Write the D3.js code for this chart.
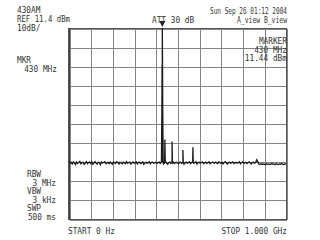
<!DOCTYPE html>
<html>
<head>
<meta charset="utf-8">
<script src="https://cdn.jsdelivr.net/npm/d3@7"></script>
<style>
  body { margin: 0; background: #fff; }
  svg text { font-family: "DejaVu Sans Mono", "Liberation Mono", monospace; font-size: 7.8px; fill: #333; }
  .grid line { stroke: #858585; stroke-width: 1; shape-rendering: crispEdges; }
  .grid path { display: none; }
</style>
</head>
<body>
<script>
// screen settings
var refLevel = 11.4;
var dbPerDiv = 10;
var startFreq = 0;     // MHz
var stopFreq = 1000;   // MHz
var gridTicksX = [0, 100, 200, 300, 400, 500, 600, 700, 800, 900, 1000];
var gridTicksY = [11.4, 1.4, -8.6, -18.6, -28.6, -38.6, -48.6, -58.6, -68.6, -78.6, -88.6];

// noise floor, one reading every 5 MHz (0 .. 1000 MHz)
var noiseStep = 5;
var noise = [
  -58.6,-59.4,-58.9,-59.8,-58.7,-59.2,-60.1,-58.8,-59.5,-59.0,-58.4,-59.7,-59.1,-58.9,-60.0,-59.3,-58.6,-59.6,-59.0,-58.8,
  -59.5,-58.7,-59.9,-59.2,-58.5,-59.4,-59.8,-58.9,-59.1,-60.2,-58.7,-59.3,-59.0,-58.6,-59.7,-59.2,-58.9,-59.6,-58.8,-59.4,
  -59.9,-58.7,-59.2,-59.5,-58.6,-59.0,-59.8,-58.9,-59.3,-59.7,-58.8,-59.1,-59.6,-58.5,-59.4,-59.0,-58.8,-59.9,-59.2,-58.7,
  -59.5,-59.1,-58.6,-59.8,-59.0,-58.9,-59.6,-59.3,-58.7,-60.0,-59.2,-58.8,-59.5,-59.1,-58.6,-59.7,-59.0,-58.9,-59.4,-59.2,
  -58.8,-59.6,-59.1,-58.7,-59.5,-59.0,-58.9,-59.8,-59.3,-58.6,-59.4,-59.9,-59.0,-58.8,-59.5,-59.2,-58.7,-59.6,-59.1,-58.9,
  -59.3,-59.7,-58.8,-59.0,-59.5,-58.6,-59.9,-59.2,-58.8,-59.4,-59.1,-58.7,-59.6,-59.0,-58.9,-59.5,-59.2,-58.6,-59.8,-59.1,
  -58.9,-59.4,-59.0,-58.7,-59.6,-59.2,-58.8,-59.5,-59.1,-58.6,-59.7,-59.3,-58.9,-59.0,-59.5,-58.8,-59.2,-59.6,-58.7,-59.1,
  -59.4,-58.9,-59.7,-59.0,-58.6,-59.3,-59.8,-59.1,-58.8,-59.5,-59.0,-58.7,-59.6,-59.2,-58.9,-59.4,-59.1,-58.6,-59.7,-59.0,
  -58.8,-59.5,-59.2,-58.9,-59.6,-59.0,-58.7,-59.3,-59.8,-59.1,-58.9,-59.4,-59.0,-57.6,-58.7,-59.9,-60.0,-59.7,-60.1,-59.8,
  -59.9,-60.2,-59.7,-60.0,-59.8,-60.1,-59.9,-59.6,-60.0,-59.8,-60.2,-59.7,-59.9,-60.1,-59.8,-60.0,-59.6,-59.9,-60.1,-59.8,
  -59.7
];

// carrier and spurs: [MHz, dBm]
var peakPoints = [[426, -58], [428, -32], [429, -8], [430, 11.44], [431, -8], [432, -32], [434, -58]];
var spurPoints = [
  [440.5, -59], [442, -47], [443.5, -59],
  [473.5, -59], [475, -48], [476.5, -59],
  [523.5, -59], [525, -52.5], [526.5, -59],
  [569.5, -59], [571, -51], [572.5, -59]
];

var markerFreq = 430;
var markerLevel = 11.44;

var svg = d3.select('body').append('svg')
    .attr('width', 320)
    .attr('height', 240);

var xScale = d3.scaleLinear().domain([startFreq, stopFreq]).range([69, 286]);
var yScale = d3.scaleLinear().domain([refLevel - 10 * dbPerDiv, refLevel]).range([219, 28]);

// grid
svg.append('g').attr('class', 'grid')
    .attr('transform', 'translate(0.5,219.5)')
    .call(d3.axisBottom(xScale).tickValues(gridTicksX).tickSize(-191).tickFormat(''));
svg.append('g').attr('class', 'grid')
    .attr('transform', 'translate(69.5,0.5)')
    .call(d3.axisLeft(yScale).tickValues(gridTicksY).tickSize(-217).tickFormat(''));

// frame
svg.append('rect')
    .attr('x', 69.5).attr('y', 28.5)
    .attr('width', 217).attr('height', 191)
    .attr('fill', 'none').attr('stroke', '#555').attr('stroke-width', 1);
svg.append('line')
    .attr('x1', 69).attr('x2', 69).attr('y1', 28).attr('y2', 220)
    .attr('stroke', '#333').attr('stroke-width', 1.6);

// trace
var trace = noise.map(function(v, i) { return [i * noiseStep, v]; })
    .concat(peakPoints, spurPoints)
    .sort(function(a, b) { return a[0] - b[0]; });

var line = d3.line()
    .x(d => xScale(d[0]))
    .y(d => yScale(d[1]));

svg.append('path')
    .datum(trace)
    .attr('d', line)
    .attr('fill', 'none')
    .attr('stroke', '#1a1a1a')
    .attr('stroke-width', 1.3);

// marker
var mx = xScale(markerFreq);
var my = yScale(markerLevel);
svg.append('path')
    .attr('d', `M${mx - 3},${my - 7} L${mx + 3},${my - 7} L${mx},${my - 1} Z`)
    .attr('fill', '#222');

// annotations (tall, narrow instrument font)
function label(x, y, txt, anchor, width) {
    var t = svg.append('text')
        .attr('transform', `translate(${x},${y}) scale(1,1.12)`)
        .attr('text-anchor', anchor || 'start')
        .text(txt);
    if (width) t.attr('textLength', width).attr('lengthAdjust', 'spacingAndGlyphs');
}

label(17, 13, '430AM');
label(17, 22, 'REF 11.4 dBm', 'start', 53);
label(17, 30.5, '10dB/');
label(152, 22.5, 'ATT 30 dB');
label(287, 14, 'Sun Sep 26 01:12 2004', 'end', 77);
label(287, 22.5, 'A_view B_view', 'end', 50);
label(287, 44, 'MARKER', 'end');
label(287, 52.5, '430 MHz', 'end');
label(287, 61, '11.44 dBm', 'end');
label(17, 63, 'MKR');
label(57, 72, '430 MHz', 'end');
label(27, 177, 'RBW');
label(56, 185.5, '3 MHz', 'end');
label(27, 194, 'VBW');
label(56, 202.5, '3 kHz', 'end');
label(27, 211, 'SWP');
label(56, 219.5, '500 ms', 'end');
label(68, 234, 'START 0 Hz');
label(287, 234, 'STOP 1.000 GHz', 'end');
</script>
</body>
</html>
